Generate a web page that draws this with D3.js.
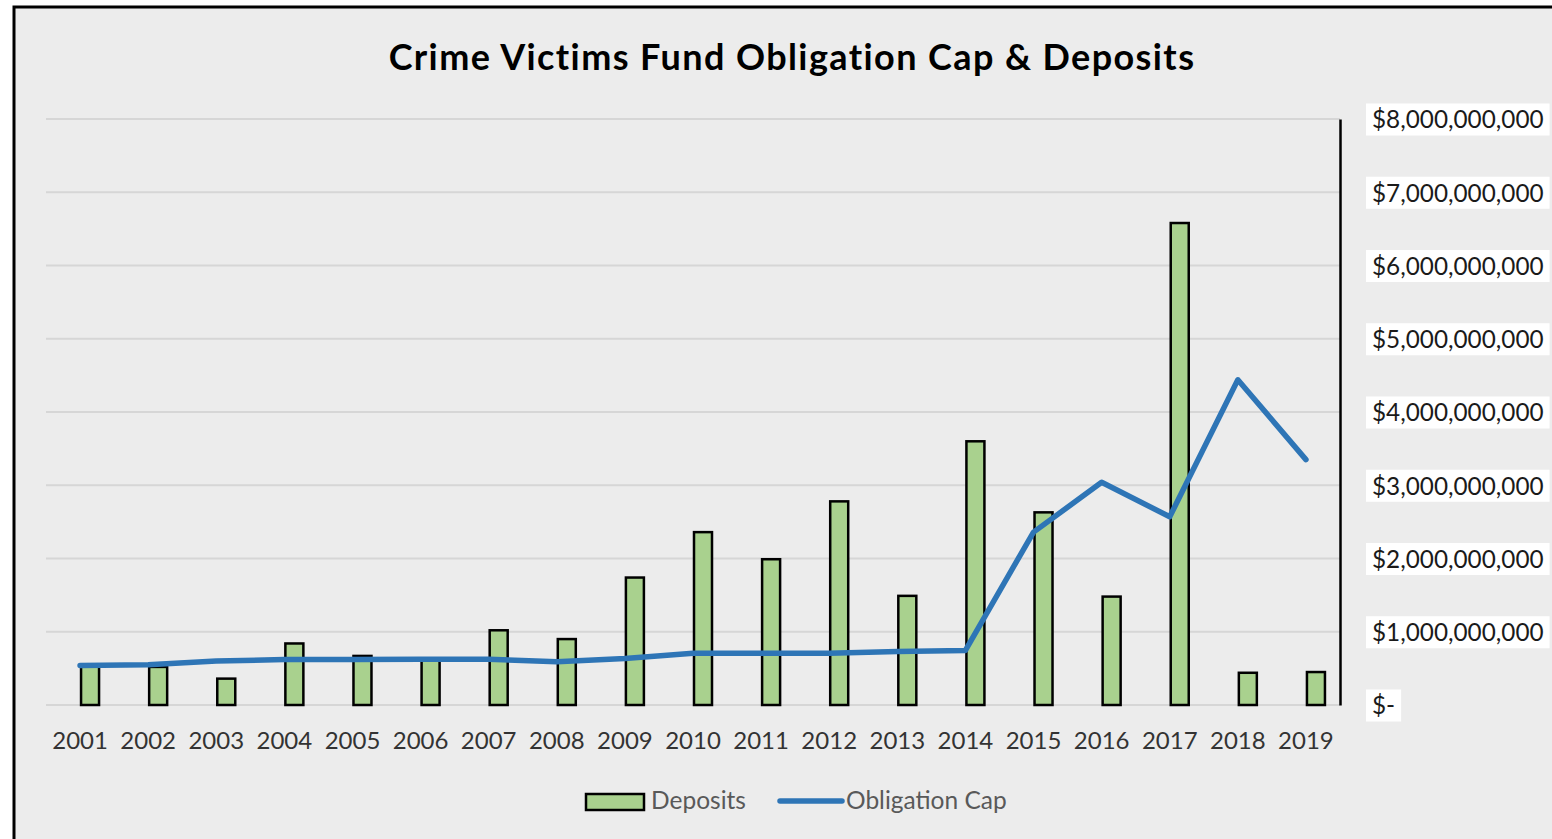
<!DOCTYPE html>
<html>
<head>
<meta charset="utf-8">
<script src="https://cdn.jsdelivr.net/npm/d3@7"></script>
<style>
  body { margin: 0; background: #ffffff; }
  svg { display: block; font-family: Lato, "Open Sans", sans-serif; }
</style>
</head>
<body>
<div id="chart"></div>
<script>
// data
const years = ['2001', '2002', '2003', '2004', '2005', '2006', '2007', '2008', '2009', '2010',
  '2011', '2012', '2013', '2014', '2015', '2016', '2017', '2018', '2019']
const deposits = [0.54e9, 0.52e9, 0.36e9, 0.84e9, 0.67e9, 0.63e9, 1.02e9, 0.90e9, 1.74e9, 2.36e9,
  1.99e9, 2.78e9, 1.49e9, 3.60e9, 2.63e9, 1.48e9, 6.58e9, 0.44e9, 0.45e9]
const obligationCap = [0.54e9, 0.55e9, 0.60e9, 0.62e9, 0.62e9, 0.625e9, 0.625e9, 0.59e9, 0.635e9, 0.705e9,
  0.705e9, 0.705e9, 0.73e9, 0.745e9, 2.36e9, 3.04e9, 2.57e9, 4.44e9, 3.35e9]
const yTicks = [0, 1e9, 2e9, 3e9, 4e9, 5e9, 6e9, 7e9, 8e9]

const W = 1552, H = 839
const PLOT = { LEFT: 46, RIGHT: 1340, TOP: 119, BOTTOM: 705 }

const svg = d3.select('#chart').append('svg')
  .attr('width', W)
  .attr('height', H)

// chart area with border
svg.append('rect')
  .attr('x', 14).attr('y', 7)
  .attr('width', W + 20).attr('height', H + 20)
  .attr('fill', '#ececec')
  .attr('stroke', '#000')
  .attr('stroke-width', 3)

svg.append('text')
  .attr('x', 792).attr('y', 70)
  .attr('text-anchor', 'middle')
  .attr('font-size', 36)
  .attr('font-weight', 700)
  .attr('letter-spacing', 1.4)
  .attr('fill', '#000')
  .text('Crime Victims Fund Obligation Cap & Deposits')

const x = d3.scaleBand()
  .domain(years)
  .range([PLOT.LEFT, PLOT.RIGHT])

const y = d3.scaleLinear()
  .domain([0, 8e9])
  .range([PLOT.BOTTOM, PLOT.TOP])

const cx = d => x(d) + x.bandwidth() / 2

// gridlines
svg.append('g')
  .selectAll('line')
  .data(yTicks)
  .join('line')
  .attr('x1', PLOT.LEFT).attr('x2', PLOT.RIGHT)
  .attr('y1', d => y(d)).attr('y2', d => y(d))
  .attr('stroke', '#d6d6d6')
  .attr('stroke-width', 2)

// right axis with labels on white boxes
const yAxis = svg.append('g')
  .attr('transform', 'translate(' + PLOT.RIGHT + ',0)')
  .call(d3.axisRight(y).tickValues(yTicks).tickSize(0).tickPadding(32)
    .tickFormat(d => d === 0 ? '$-' : d3.format('$,')(d)))

yAxis.select('.domain')
  .attr('stroke', '#000')
  .attr('stroke-width', 2.5)

yAxis.selectAll('.tick text')
  .attr('font-family', 'Lato, sans-serif')
  .attr('font-size', 24.3)
  .attr('fill', '#1a1a1a')
  .attr('dy', '0.36em')

yAxis.selectAll('.tick').each(function () {
  const t = d3.select(this)
  const bb = t.select('text').node().getBBox()
  t.insert('rect', 'text')
    .attr('x', bb.x - 6)
    .attr('y', -16)
    .attr('width', bb.width + 12)
    .attr('height', 32)
    .attr('fill', '#fff')
})

// x labels
const xAxis = svg.append('g')
  .attr('transform', 'translate(0,' + PLOT.BOTTOM + ')')
  .call(d3.axisBottom(x).tickSize(0).tickPadding(27))

xAxis.select('.domain').remove()
xAxis.selectAll('.tick text')
  .attr('font-family', 'Lato, sans-serif')
  .attr('font-size', 24)
  .attr('fill', '#333')

// deposits bars
svg.append('g')
  .selectAll('rect')
  .data(years)
  .join('rect')
  .attr('x', d => cx(d) + 1)
  .attr('width', 18)
  .attr('y', (d, i) => y(deposits[i]))
  .attr('height', (d, i) => PLOT.BOTTOM - y(deposits[i]))
  .attr('fill', '#a9d18e')
  .attr('stroke', '#000')
  .attr('stroke-width', 2.5)

// obligation cap line
const line = d3.line()
  .x(d => cx(d[0]))
  .y(d => y(d[1]))

svg.append('path')
  .datum(years.map((yr, i) => [yr, obligationCap[i]]))
  .attr('d', line)
  .attr('fill', 'none')
  .attr('stroke', '#2e75b6')
  .attr('stroke-width', 5.5)
  .attr('stroke-linecap', 'round')
  .attr('stroke-linejoin', 'round')

// legend
const legend = svg.append('g')
legend.append('rect')
  .attr('x', 586).attr('y', 794)
  .attr('width', 58).attr('height', 16)
  .attr('fill', '#a9d18e')
  .attr('stroke', '#000')
  .attr('stroke-width', 2.5)
legend.append('text')
  .attr('x', 651).attr('y', 809)
  .attr('font-size', 24.5)
  .attr('fill', '#595959')
  .text('Deposits')
legend.append('line')
  .attr('x1', 780).attr('x2', 842)
  .attr('y1', 801).attr('y2', 801)
  .attr('stroke', '#2e75b6')
  .attr('stroke-width', 5.5)
  .attr('stroke-linecap', 'round')
legend.append('text')
  .attr('x', 846).attr('y', 809)
  .attr('font-size', 24.5)
  .attr('fill', '#595959')
  .text('Obligation Cap')
</script>
</body>
</html>
